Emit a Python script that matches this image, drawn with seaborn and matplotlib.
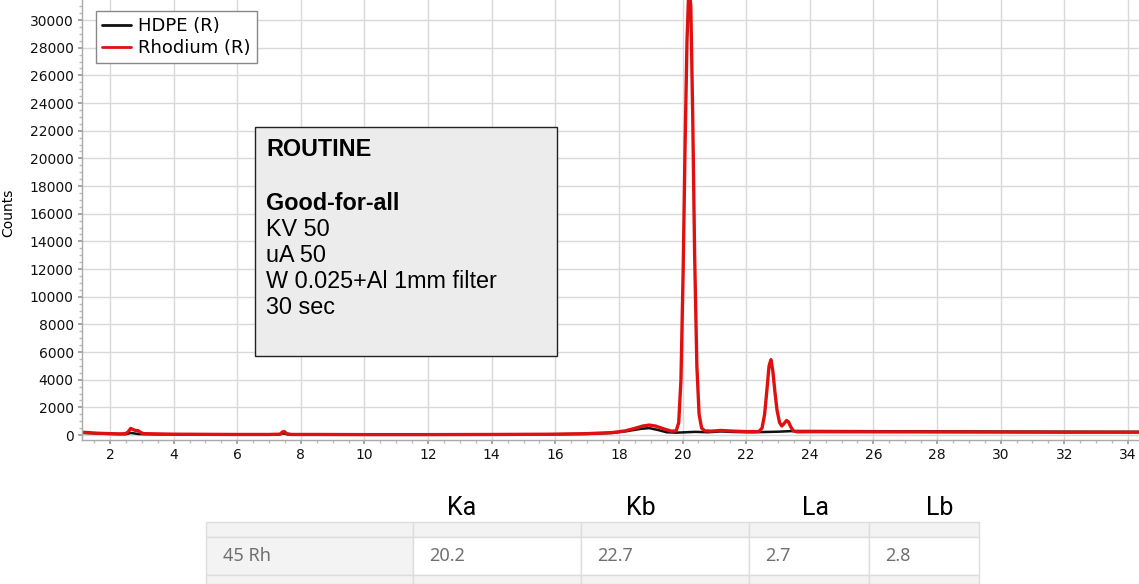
import numpy as np
import pandas as pd
import matplotlib
matplotlib.use("Agg")
import matplotlib.pyplot as plt
from matplotlib.ticker import MultipleLocator, AutoMinorLocator
from matplotlib.patches import Rectangle
import seaborn as sns

# spectrum (energy keV, counts)
red_x = [1.12, 1.3, 1.6, 2.0, 2.3, 2.5, 2.58, 2.65, 2.72, 2.8, 2.88, 2.95, 3.05, 3.5, 4.0,
         5.0, 6.0, 7.0, 7.35, 7.42, 7.48, 7.55, 7.7, 8.5, 10.0, 12.0, 14.0, 16.0, 17.0, 17.8,
         18.2, 18.5, 18.75, 18.95, 19.15, 19.4, 19.65, 19.8, 19.88, 19.95, 20.02, 20.08, 20.14,
         20.2, 20.26, 20.32, 20.38, 20.45, 20.52, 20.6, 20.7, 20.9, 21.2, 21.6, 22.0, 22.4,
         22.5, 22.58, 22.65, 22.72, 22.78, 22.84, 22.9, 22.97, 23.05, 23.12, 23.2, 23.27,
         23.33, 23.4, 23.48, 23.6, 24.0, 26.0, 28.0, 30.0, 32.0, 34.35]
red_y = [200, 180, 130, 100, 80, 100, 250, 480, 400, 330, 320, 200, 100, 80, 60,
         50, 40, 40, 60, 220, 250, 100, 40, 40, 30, 30, 40, 60, 100, 180,
         300, 480, 650, 720, 650, 450, 280, 300, 900, 4000, 12000, 21000, 28500,
         32500, 31000, 23000, 13000, 5000, 1500, 500, 300, 280, 330, 280, 250, 250,
         500, 1500, 3200, 5000, 5450, 4600, 3200, 1800, 900, 650, 850, 1050,
         950, 600, 300, 230, 240, 230, 220, 210, 200, 200]

black_x = [1.12, 1.5, 2.0, 2.5, 2.65, 2.75, 2.9, 3.5, 5.0, 7.3, 7.45, 7.6, 9.0, 12.0, 15.0,
           17.0, 17.8, 18.3, 18.7, 18.95, 19.2, 19.5, 19.8, 20.1, 20.4, 20.8, 21.2, 21.6,
           22.2, 22.6, 23.0, 23.4, 23.6, 24.0, 27.0, 30.0, 34.35]
black_y = [150, 120, 80, 60, 150, 120, 70, 50, 40, 40, 120, 40, 30, 30, 40,
           80, 150, 300, 450, 500, 380, 200, 170, 200, 230, 200, 260, 220,
           200, 220, 240, 280, 290, 290, 270, 250, 230]

series_names = ["HDPE (R)", "Rhodium (R)"]
series_colors = ["#111111", "#e01010"]

info_title = "ROUTINE"
info_bold = "Good-for-all"
info_lines = ["KV 50", "uA 50", "W 0.025+Al 1mm filter", "30 sec"]

table_headers = ["Ka", "Kb", "La", "Lb"]
row_label = "45 Rh"
row_values = ["20.2", "22.7", "2.7", "2.8"]

df = pd.concat([
    pd.DataFrame({"keV": black_x, "Counts": black_y, "sample": series_names[0]}),
    pd.DataFrame({"keV": red_x, "Counts": red_y, "sample": series_names[1]}),
])

sns.set_theme(style="whitegrid")
plt.rcParams['font.family'] = ['DejaVu Sans']
plt.rcParams['text.color'] = 'black'
plt.rcParams['axes.labelcolor'] = 'black'
plt.rcParams['xtick.labelcolor'] = '#111111'
plt.rcParams['ytick.labelcolor'] = '#111111'

W, H = 1139, 584
fig = plt.figure(figsize=(W / 100, H / 100), dpi=100)
ax = fig.add_axes([82 / W, 1 - 440 / H, 1 - 82 / W, 440 / H])

sns.lineplot(data=df, x="keV", y="Counts", hue="sample", palette=series_colors,
             estimator=None, sort=False, ax=ax, legend=False)
ax.lines[0].set_linewidth(1.8)
ax.lines[1].set_linewidth(2.4)

ax.set_xlim(1.12, 34.35)
ax.set_ylim(-360, 31450)
ax.xaxis.set_major_locator(MultipleLocator(2))
ax.xaxis.set_minor_locator(MultipleLocator(0.5))
ax.yaxis.set_major_locator(MultipleLocator(2000))
ax.yaxis.set_minor_locator(AutoMinorLocator(4))
ax.grid(True, which="major", color="#d9d9d9", linewidth=1)
ax.grid(False, which="minor")
ax.tick_params(axis="both", which="major", labelsize=10, length=3, color="#999999",
               bottom=True, left=True, pad=3)
ax.tick_params(axis="both", which="minor", length=2, color="#bbbbbb", bottom=True, left=True)
for s in ["top", "right"]:
    ax.spines[s].set_visible(False)
for s in ["left", "bottom"]:
    ax.spines[s].set_color("#aaaaaa")
    ax.spines[s].set_linewidth(1)
ax.set_xlabel("")
ax.set_ylabel("Counts", fontsize=10)
ax.yaxis.set_label_coords(-0.063, 0.516)

# legend
handles = [plt.Line2D([], [], color=c, lw=2) for c in series_colors]
leg = ax.legend(handles, series_names, loc="upper left", bbox_to_anchor=(0.0132, 0.975),
                borderaxespad=0, fontsize=13, handlelength=1.6, handletextpad=0.4,
                labelspacing=0.2, borderpad=0.35, fancybox=False, framealpha=1)
leg.get_frame().set_edgecolor("#888888")
leg.get_frame().set_linewidth(1)

# info box
x0, x1 = (255 - 82) / 1057, (557 - 82) / 1057
y1, y0 = 1 - 127 / 440, 1 - 356 / 440
ax.add_patch(Rectangle((x0, y0), x1 - x0, y1 - y0, transform=ax.transAxes,
                       facecolor="#ececec", edgecolor="#222222", lw=1, zorder=5))
tx = (266 - 82) / 1057
txt_font = ["Liberation Sans", "DejaVu Sans"]
ax.text(tx, 1 - 150 / 440, info_title, transform=ax.transAxes, fontsize=16.8,
        fontweight="bold", va="center", family=txt_font, color="black", zorder=6)
ax.text(tx, 1 - 203 / 440, info_bold, transform=ax.transAxes, fontsize=16.8,
        fontweight="bold", va="center", family=txt_font, color="black", zorder=6)
for i, line in enumerate(info_lines):
    ax.text(tx, 1 - (229 + 26 * i) / 440, line, transform=ax.transAxes, fontsize=16.8,
            va="center", family=txt_font, color="black", zorder=6)

# table snippet under the chart (pixel coordinates)
tb = fig.add_axes([0, 0, 1, 124 / H])
tb.set_xlim(0, W)
tb.set_ylim(H, 460)
tb.axis("off")
col_edges = [206, 413, 581, 749, 869, 979]
row_edges = [522, 537, 575, 584]
grey = "#f3f3f3"
for r in range(3):
    for c in range(5):
        fc = grey if (r != 1 or c == 0) else "white"
        tb.add_patch(Rectangle((col_edges[c], row_edges[r]), col_edges[c + 1] - col_edges[c],
                               row_edges[r + 1] - row_edges[r], facecolor=fc,
                               edgecolor="#dddddd", lw=1))
head_font = ["Liberation Sans Narrow", "Roboto", "DejaVu Sans"]
head_x = [462, 641, 815, 940]
for hx, h in zip(head_x, table_headers):
    tb.text(hx, 508, h, ha="center", va="center", fontsize=18, family=head_font, color="black")
cell_font = ["Noto Sans", "DejaVu Sans"]
tb.text(col_edges[0] + 17, 556, row_label, ha="left", va="center", fontsize=13,
        family=cell_font, color="#707070")
for c, v in enumerate(row_values):
    tb.text(col_edges[c + 1] + 16, 556, v, ha="left", va="center", fontsize=13,
            family=cell_font, color="#707070")

fig.savefig("out.png", dpi=100)
